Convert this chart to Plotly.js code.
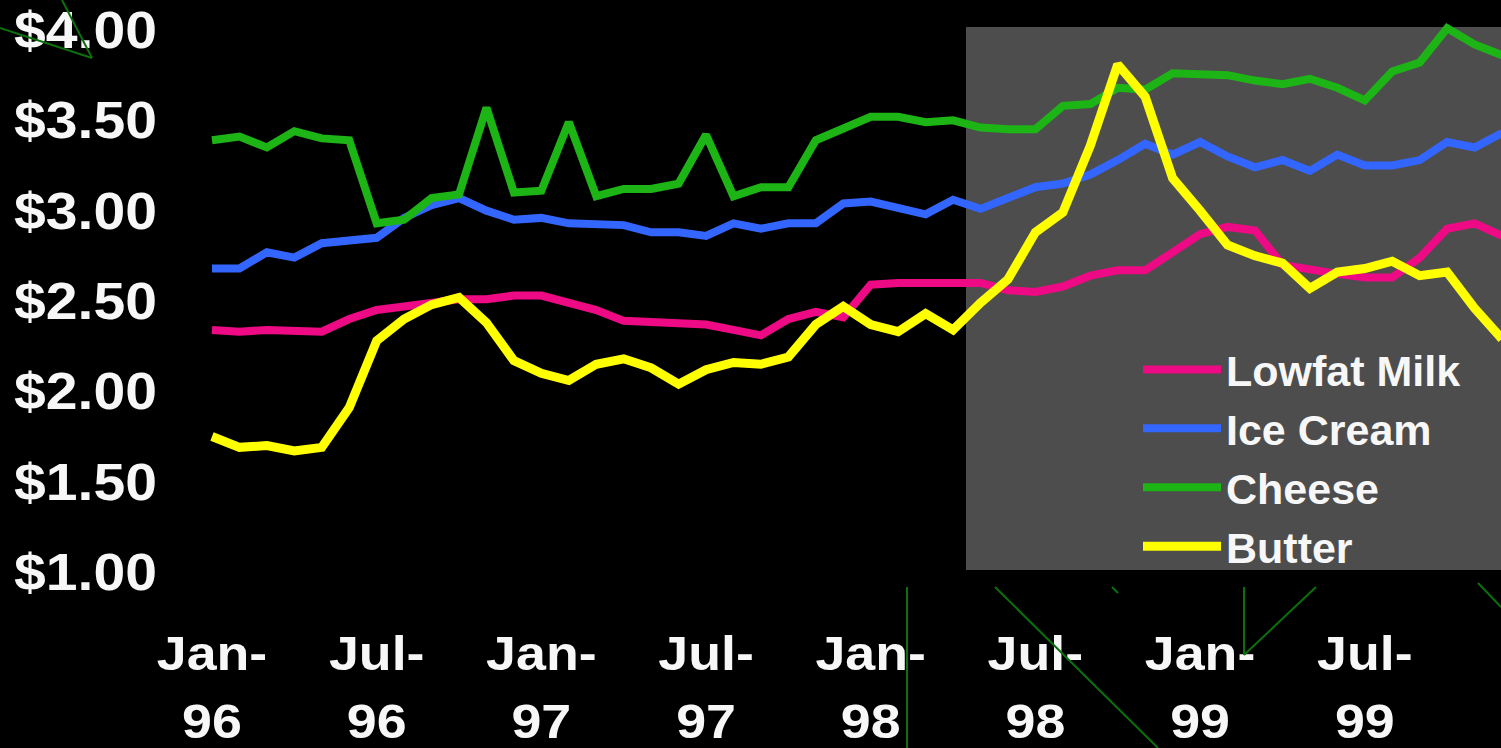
<!DOCTYPE html>
<html>
<head>
<meta charset="utf-8">
<script src="https://cdn.plot.ly/plotly-3.0.1.min.js"></script>
<style>
  html, body { margin: 0; padding: 0; background: #000; }
  #chart { width: 1501px; height: 748px; }
</style>
</head>
<body>
<div id="chart"></div>
<script>
// ---- data ----
const months = [
  "Jan-96","Feb-96","Mar-96","Apr-96","May-96","Jun-96","Jul-96","Aug-96","Sep-96","Oct-96","Nov-96","Dec-96",
  "Jan-97","Feb-97","Mar-97","Apr-97","May-97","Jun-97","Jul-97","Aug-97","Sep-97","Oct-97","Nov-97","Dec-97",
  "Jan-98","Feb-98","Mar-98","Apr-98","May-98","Jun-98","Jul-98","Aug-98","Sep-98","Oct-98","Nov-98","Dec-98",
  "Jan-99","Feb-99","Mar-99","Apr-99","May-99","Jun-99","Jul-99","Aug-99","Sep-99","Oct-99","Nov-99","Dec-99"
];
const lowfatMilk = [
  2.34,2.33,2.34,2.33,2.33,2.40,2.45,2.47,2.49,2.51,2.51,2.53,
  2.53,2.49,2.45,2.39,2.38,2.37,2.37,2.34,2.31,2.40,2.44,2.41,
  2.59,2.60,2.60,2.60,2.60,2.56,2.55,2.58,2.64,2.67,2.67,2.77,
  2.87,2.91,2.89,2.70,2.67,2.65,2.63,2.63,2.74,2.90,2.93,2.86
];
const iceCream = [
  2.68,2.68,2.77,2.74,2.82,2.84,2.85,2.96,3.03,3.07,3.00,2.95,
  2.96,2.93,2.93,2.92,2.88,2.88,2.86,2.93,2.90,2.93,2.93,3.04,
  3.05,3.01,2.98,3.06,3.01,3.07,3.13,3.15,3.20,3.28,3.37,3.31,
  3.38,3.30,3.24,3.28,3.22,3.31,3.25,3.25,3.28,3.38,3.35,3.43
];
const cheese = [
  3.39,3.41,3.35,3.44,3.40,3.39,2.93,2.95,3.07,3.09,3.57,3.10,
  3.11,3.49,3.08,3.12,3.12,3.15,3.42,3.08,3.13,3.13,3.39,3.46,
  3.52,3.52,3.49,3.50,3.46,3.45,3.45,3.58,3.59,3.68,3.67,3.76,
  3.75,3.75,3.72,3.70,3.73,3.68,3.61,3.77,3.82,4.01,3.92,3.86
];
const butter = [
  1.75,1.69,1.70,1.67,1.69,1.91,2.28,2.40,2.48,2.52,2.38,2.17,
  2.10,2.06,2.15,2.18,2.13,2.04,2.12,2.16,2.15,2.19,2.37,2.47,
  2.37,2.33,2.43,2.34,2.49,2.62,2.88,2.99,3.36,3.81,3.63,3.18,
  3.00,2.81,2.75,2.71,2.57,2.66,2.68,2.72,2.64,2.66,2.46,2.29
];
const seriesNames = ["Lowfat Milk","Ice Cream","Cheese","Butter"];
const xTickMonths = ["Jan-96","Jul-96","Jan-97","Jul-97","Jan-98","Jul-98","Jan-99","Jul-99"];
const xTickTop = ["Jan-","Jul-","Jan-","Jul-","Jan-","Jul-","Jan-","Jul-"];
const xTickBottom = ["96","96","97","97","98","98","99","99"];
const yTickVals = [1.0,1.5,2.0,2.5,3.0,3.5,4.0];
const yTickText = ["$1.00","$1.50","$2.00","$2.50","$3.00","$3.50","$4.00"];

// ---- styling ----
const colors = ["#ee0a84","#3366ff","#1db416","#ffff00"];
const widths = [8, 8, 8, 9];
const W = 1501, H = 748, L = 170, T = 0, B = 158;
const plotW = W - L, plotH = H - T - B;
const xRange = [-1.5302, 46.9636];
const yRange = [0.9004, 4.1660];
const txt = "#f7f7f7";
const fam = "Liberation Sans, Arial, sans-serif";

const allSeries = [lowfatMilk, iceCream, cheese, butter];
const traces = allSeries.map((ys, k) => ({
  type: "scatter", mode: "lines", name: seriesNames[k],
  x: months, y: ys,
  line: {color: colors[k], width: widths[k]},
  hoverinfo: "skip"
}));
traces.push({type: "scatter", mode: "lines", x: [], y: [], xaxis: "x2", yaxis: "y", showlegend: false, hoverinfo: "skip"});

// pixel -> paper helpers for decoration
const px = v => (v - L) / plotW;
const py = v => 1 - (v - T) / plotH;
const deco = [
  [0,28,92,58],[62,0,92,58],
  [907,587,907,748],[995,587,1158,748],[1112,587,1118,593],
  [1244,587,1244,655],[1244,655,1316,587],[1478,583,1501,607]
];
const shapes = [{
  type: "rect", xref: "paper", yref: "paper", layer: "below",
  x0: px(966), x1: px(1501), y0: py(570), y1: py(27),
  fillcolor: "#4d4d4d", line: {width: 0}
}].concat(deco.map(d => ({
  type: "line", xref: "paper", yref: "paper", layer: "above",
  x0: px(d[0]), y0: py(d[1]), x1: px(d[2]), y1: py(d[3]),
  line: {color: "#0b700b", width: 2}
})));

const xIdx = xTickMonths.map(m => months.indexOf(m));

const layout = {
  width: W, height: H,
  margin: {l: L, r: 0, t: T, b: B, pad: 0, autoexpand: false},
  paper_bgcolor: "#000", plot_bgcolor: "rgba(0,0,0,0)",
  showlegend: true,
  xaxis: {
    type: "category", range: xRange, fixedrange: true, automargin: false,
    tickmode: "array", tickvals: xTickMonths, ticktext: xTickTop,
    showgrid: false, zeroline: false, showline: false, ticks: "",
    ticklabelstandoff: 31, tickangle: 0,
    tickfont: {family: fam, size: 48, color: txt, weight: "bold"}
  },
  xaxis2: {
    type: "linear", overlaying: "x", anchor: "y", side: "bottom",
    range: xRange, fixedrange: true, automargin: false,
    tickmode: "array", tickvals: xIdx, ticktext: xTickBottom,
    showgrid: false, zeroline: false, showline: false, ticks: "",
    ticklabelstandoff: 99, tickangle: 0,
    tickfont: {family: fam, size: 48, color: txt, weight: "bold"}
  },
  yaxis: {
    range: yRange, fixedrange: true, automargin: false,
    tickmode: "array", tickvals: yTickVals, ticktext: yTickText,
    showgrid: false, zeroline: false, showline: false, ticks: "",
    ticklabelstandoff: 12,
    tickfont: {family: fam, size: 51, color: txt, weight: "bold"}
  },
  legend: {
    xref: "container", yref: "container",
    x: 1138 / W, y: 1 - 335 / H, xanchor: "left", yanchor: "top",
    bgcolor: "rgba(0,0,0,0)", borderwidth: 0,
    itemwidth: 78, tracegroupgap: 0,
    font: {family: fam, size: 43, color: txt, weight: "bold"}
  },
  shapes: shapes
};

Plotly.newPlot("chart", traces, layout, {staticPlot: true, displayModeBar: false}).then(gd => {
  // reference glyphs are horizontally stretched
  const stretch = (sel, f) => {
    gd.querySelectorAll(sel).forEach(t => {
      const w = t.getComputedTextLength();
      if (w > 0) {
        t.setAttribute("textLength", (w * f).toFixed(1));
        t.setAttribute("lengthAdjust", "spacingAndGlyphs");
      }
    });
  };
  stretch(".ytick text", 1.12);
  stretch(".xtick text", 1.12);
  stretch(".x2tick text", 1.12);
});
</script>
</body>
</html>
